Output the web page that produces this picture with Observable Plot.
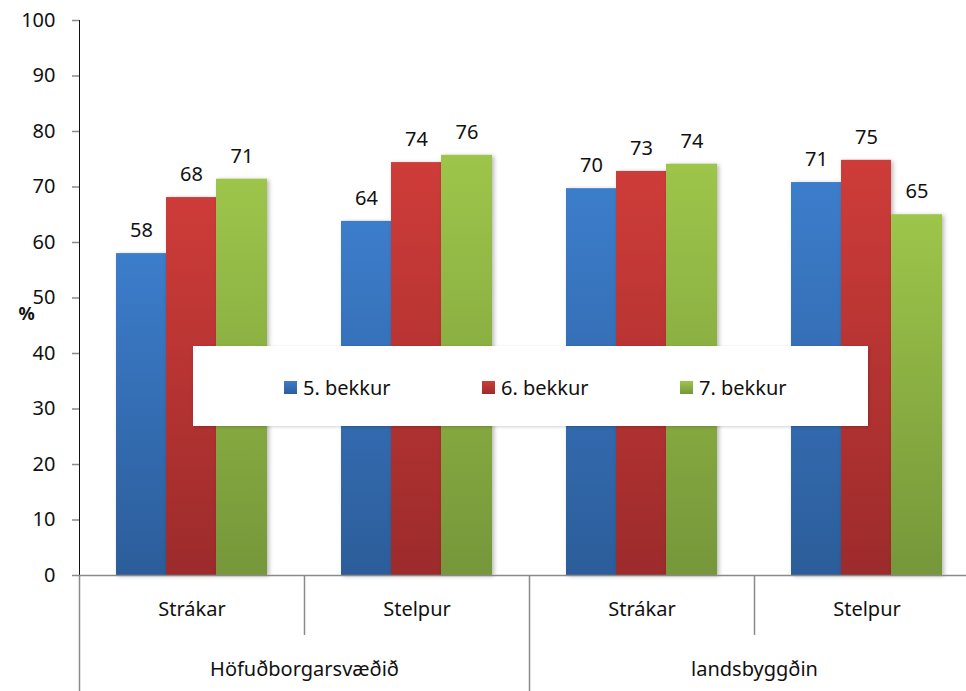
<!DOCTYPE html>
<html>
<head>
<meta charset="utf-8">
<script src="https://cdn.jsdelivr.net/npm/d3@7"></script>
<script src="https://cdn.jsdelivr.net/npm/@observablehq/plot@0.6"></script>
<style>
  body { margin: 0; background: #fff; }
  #wrap { position: relative; width: 966px; height: 691px; font-family: "Noto Sans", sans-serif; }
  #wrap svg [aria-label^="y-axis"] path,
  #wrap svg [aria-label^="y-axis"] line { stroke: #8a8a8a; stroke-width: 1.5px; }
  #wrap svg g[aria-label="bar"] rect { filter: drop-shadow(2px 1px 2px rgba(0,0,0,0.28)); }
  #legend { position: absolute; left: 193px; top: 346px; width: 675px; height: 80px; background: #fff;
            box-shadow: 1px 1px 3px rgba(0,0,0,0.18); }
  .item { position: absolute; top: 34px; height: 14px; display: flex; align-items: center; font-size: 20px; color: #111; white-space: nowrap; }
  .sw { width: 13px; height: 13px; margin-right: 6px; }
</style>
</head>
<body>
<div id="wrap"></div>
<script>
// ---- data ----
const regions = ["Höfuðborgarsvæðið", "Höfuðborgarsvæðið", "landsbyggðin", "landsbyggðin"];
const genders = ["Strákar", "Stelpur", "Strákar", "Stelpur"];
const series = ["5. bekkur", "6. bekkur", "7. bekkur"];
const bekkur5 = [58.0, 63.8, 69.7, 70.8];
const bekkur6 = [68.1, 74.4, 72.8, 74.8];
const bekkur7 = [71.4, 75.7, 74.1, 65.0];
const yTicks = [0, 10, 20, 30, 40, 50, 60, 70, 80, 90, 100];
const regionNames = ["Höfuðborgarsvæðið", "landsbyggðin"];

// ---- styling ----
const colors = [
  ["#3c7dcb", "#2c5d9a"],
  ["#ce3c39", "#9c2b2b"],
  ["#9dc54a", "#76973a"]
];

const keys = genders.map((g, i) => regions[i] + "|" + g);
const seriesValues = [bekkur5, bekkur6, bekkur7];
const rowsBySeries = seriesValues.map((vals, s) => vals.map((v, i) => ({key: keys[i], value: v, series: series[s]})));

const bandW = 225;
const insets = [[37, 138], [87, 88], [137, 37]];
const dxs = [-50.5, -0.5, 50];

// separators between categories (left edge of each band)
const sepRows = keys.map((k, i) => ({key: k, depth: i % 2 === 0 ? -20.9 : -10.8}));
// region labels centred between bands
const regionRows = regionNames.map((r, j) => ({key: keys[j * 2 + 1], name: r}));

const marks = [];
rowsBySeries.forEach((rows, s) => {
  marks.push(Plot.barY(rows, {x: "key", y: "value", fill: `url(#grad${s})`,
    insetLeft: insets[s][0], insetRight: insets[s][1]}));
});
rowsBySeries.forEach((rows, s) => {
  marks.push(Plot.text(rows, {x: "key", y: "value", text: d => String(Math.round(d.value)),
    dx: dxs[s], dy: -23, fill: "#111"}));
});
marks.push(Plot.ruleY([0], {stroke: "#8a8a8a", strokeWidth: 1.5}));
marks.push(Plot.ruleX(sepRows, {x: "key", dx: -bandW / 2, y1: 0, y2: "depth", stroke: "#8a8a8a", strokeWidth: 1.5}));
marks.push(Plot.text(keys, {x: d => d, text: d => d.split("|")[1], frameAnchor: "bottom", dy: 40, fill: "#111"}));
marks.push(Plot.text(regionRows, {x: "key", text: "name", dx: -bandW / 2, frameAnchor: "bottom", dy: 100, fill: "#111"}));
marks.push(Plot.text(["%"], {text: d => d, frameAnchor: "left", dx: -61, dy: 16, fontWeight: "bold", fontSize: 18, fill: "#111"}));

const chart = Plot.plot({
  width: 966,
  height: 691,
  marginTop: 20,
  marginBottom: 116,
  marginLeft: 79,
  marginRight: 0,
  style: {fontFamily: "Noto Sans", fontSize: "20px", background: "#fff", color: "#111"},
  x: {type: "band", domain: keys, range: [79, 979], padding: 0, axis: null},
  y: {domain: [0, 100], ticks: yTicks, tickSize: 7, tickPadding: 17, label: null, line: true},
  marks
});

// gradients
const svg = chart.tagName.toLowerCase() === "svg" ? chart : chart.querySelector("svg");
const defs = d3.select(svg).insert("defs", ":first-child");
colors.forEach((c, s) => {
  const g = defs.append("linearGradient").attr("id", `grad${s}`).attr("x1", 0).attr("y1", 0).attr("x2", 0).attr("y2", 1);
  g.append("stop").attr("offset", "0%").attr("stop-color", c[0]);
  g.append("stop").attr("offset", "100%").attr("stop-color", c[1]);
});

const wrap = document.getElementById("wrap");
wrap.appendChild(chart);

// legend overlay
const legend = document.createElement("div");
legend.id = "legend";
const lefts = [91, 289, 487];
series.forEach((name, s) => {
  const it = document.createElement("div");
  it.className = "item";
  it.style.left = lefts[s] + "px";
  const sw = document.createElement("span");
  sw.className = "sw";
  sw.style.background = `linear-gradient(${colors[s][0]}, ${colors[s][1]})`;
  it.appendChild(sw);
  it.appendChild(document.createTextNode(name));
  legend.appendChild(it);
});
wrap.appendChild(legend);
</script>
</body>
</html>
